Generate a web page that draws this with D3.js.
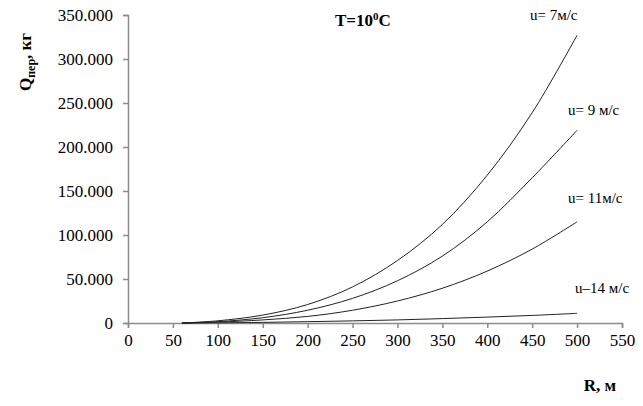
<!DOCTYPE html>
<html><head><meta charset="utf-8">
<script src="https://cdn.jsdelivr.net/npm/d3@7"></script>
<style>body{margin:0;background:#fff}svg{display:block}svg text{font-family:"Liberation Serif","Times New Roman",serif !important}</style>
</head><body><svg id="c" width="643" height="406"></svg>
<script>
const R = [60, 100, 150, 200, 250, 300, 350, 400, 450, 500];
const u7  = [0, 2.5, 9, 21, 41, 71, 112, 168, 239, 327];
const u9  = [0, 1.5, 6, 14.5, 28, 48, 76, 115, 165, 219];
const u11 = [0, 1, 3.5, 7.5, 14.5, 25, 39.5, 59, 84, 115];
const u14 = [0, 0.2, 0.7, 1.5, 2.4, 3.5, 5, 6.7, 8.6, 11];
const seriesNames = ["u= 7м/с", "u= 9 м/с", "u= 11м/с", "u–14 м/с"];
const series = [u7, u9, u11, u14];
const xTicks = [0,50,100,150,200,250,300,350,400,450,500,550];
const yTicks = [0,50,100,150,200,250,300,350];

const svg = d3.select("#c");
const x = d3.scaleLinear().domain([0,550]).range([128,622]);
const y = d3.scaleLinear().domain([0,350]).range([323,15]);
const axisCol = "#8c8c8c";
const serif = '"Liberation Serif", serif';

const xa = svg.append("g").attr("transform","translate(0,323)")
  .call(d3.axisBottom(x).tickValues(xTicks).tickSize(5).tickPadding(6).tickFormat(d=>d));
const ya = svg.append("g").attr("transform","translate(128,0)")
  .call(d3.axisLeft(y).tickValues(yTicks).tickSize(5).tickPadding(10).tickFormat(d=> d===0 ? "0" : d+".000"));
[xa,ya].forEach(a=>{
  a.attr("font-family", serif).attr("font-size", 17);
  a.select(".domain").attr("stroke",axisCol).attr("stroke-width",1.5);
  a.selectAll(".tick line").attr("stroke",axisCol).attr("stroke-width",1.5);
  a.selectAll(".tick text").attr("fill","#000").attr("font-size", 17);
});
ya.selectAll(".tick text").attr("dy","0.35em");

const line = d3.line().x((d,i)=>x(R[i])).y(d=>y(d)).curve(d3.curveCatmullRom.alpha(0.5));
series.forEach(s=>{
  svg.append("path").datum(s).attr("d",line).attr("fill","none")
    .attr("stroke","#222").attr("stroke-width",1);
});

// curve labels
const labelPos = [[530,20],[568,115],[568,203],[575,293]];
seriesNames.forEach((n,i)=>{
  svg.append("text").attr("x",labelPos[i][0]).attr("y",labelPos[i][1])
    .attr("font-size",15).text(n);
});

// title
const t = svg.append("text").attr("x",335).attr("y",26)
  .attr("font-size",17).attr("font-weight","bold");
t.append("tspan").text("T=10");
t.append("tspan").attr("dy",-6).attr("font-size",11).text("0");
t.append("tspan").attr("dy",6).text("C");

// y-axis title
const yt = svg.append("text").attr("transform","translate(31,62) rotate(-90)")
  .attr("text-anchor","middle").attr("font-size",17).attr("font-weight","bold");
yt.append("tspan").text("Q");
yt.append("tspan").attr("dy",4).attr("font-size",12).text("пер");
yt.append("tspan").attr("dy",-4).text(", кг");

// x-axis title
svg.append("text").attr("x",600).attr("y",391).attr("text-anchor","middle")
  .attr("font-size",17).attr("font-weight","bold").text("R, м");
</script></body></html>
